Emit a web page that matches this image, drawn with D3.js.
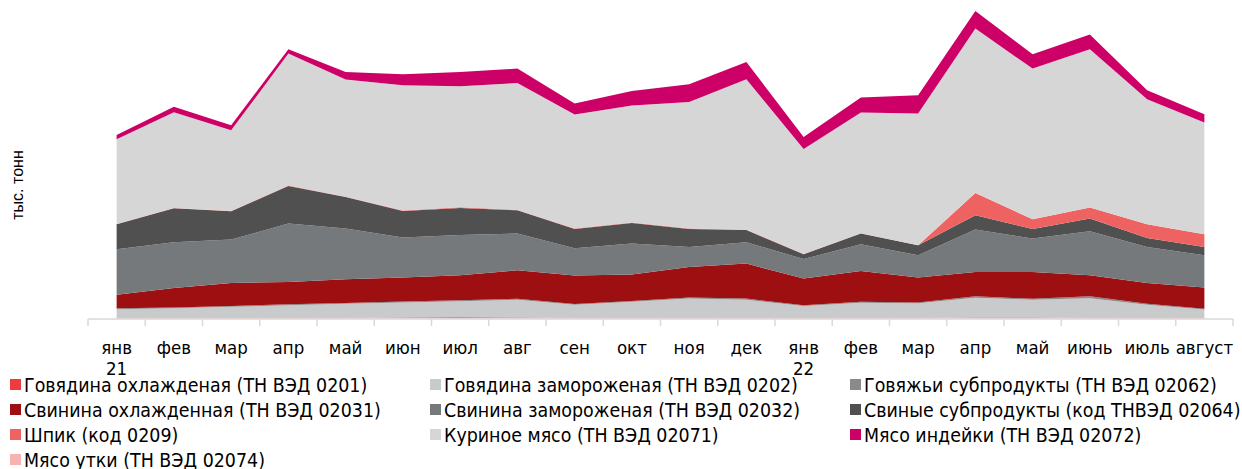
<!DOCTYPE html>
<html><head><meta charset="utf-8">
<script src="https://cdn.jsdelivr.net/npm/d3@7"></script>
<style>
body{margin:0;background:#fff;}
svg text{font-family:"DejaVu Sans Condensed","Liberation Sans Narrow",sans-serif;fill:#000;}
</style></head>
<body><svg id="c" width="1242" height="469"></svg>
<script>
const categories = ["янв\n21","фев","мар","апр","май","июн","июл","авг","сен","окт","ноя","дек","янв\n22","фев","мар","апр","май","июнь","июль","август"];
const seriesNames = ["Говядина охлажденая (ТН ВЭД 0201)","Говядина замороженая (ТН ВЭД 0202)","Говяжьи субпродукты (ТН ВЭД 02062)","Свинина охлажденная (ТН ВЭД 02031)","Свинина замороженая (ТН ВЭД 02032)","Свиные субпродукты (код ТНВЭД 02064)","Шпик (код 0209)","Куриное мясо (ТН ВЭД 02071)","Мясо индейки (ТН ВЭД 02072)","Мясо утки (ТН ВЭД 02074)"];
const colors = ["#ee3b3b","#c9cacc","#8a8a8a","#9e0f12","#76797c","#505050","#ef6262","#d6d6d6","#cc0066","#f7b3b3"];
// values (arbitrary units, stacked bottom -> top)
const beefChilled   = [0.3,0.3,0.3,0.3,0.4,0.8,1.0,0.8,0.3,0.3,0.3,0.3,0.3,0.3,0.3,0.8,0.8,0.4,0.3,0.3];
const beefFrozen    = [8.7,9.7,11.2,12.7,14.1,14.9,16.0,17.7,13.2,16.2,19.4,18.2,12.0,15.2,14.7,19.7,17.7,19.6,13.2,8.4];
const beefOffal     = [1.0,0.8,0.8,1.0,0.8,1.0,1.0,1.0,0.7,0.8,1.0,1.2,0.7,1.0,0.7,1.5,1.0,2.0,1.0,0.8];
const porkChilled   = [13.6,19.5,23.0,22.3,23.7,24.0,25.0,28.5,28.5,26.4,30.6,35.0,26.7,30.8,25.0,24.3,26.8,21.0,20.8,21.2];
const porkFrozen    = [45.4,45.7,43.4,58.4,50.7,40.0,40.3,36.7,27.3,31.0,20.0,21.3,19.6,26.7,22.3,42.4,33.4,44.0,36.0,32.3];
const porkOffal     = [25.0,34.0,28.3,37.6,31.6,26.6,27.0,23.3,19.3,20.6,18.0,12.3,4.7,10.7,10.0,14.3,9.6,12.7,9.0,8.3];
const shpik         = [0.3,0.3,0.3,0.4,0.2,0.4,0.7,0.4,0.4,0.4,0.4,0.3,0.3,0.3,0.0,22.3,9.7,11.0,13.7,12.7];
const chicken       = [84.7,95.7,80.7,132.0,117.2,125.3,121.0,126.9,114.0,117.0,126.6,150.4,105.0,120.7,131.7,164.4,150.7,158.3,125.0,111.7];
const turkey        = [4.3,5.6,5.0,4.3,7.6,11.0,14.3,14.4,11.0,14.6,17.7,17.3,12.0,15.0,18.3,17.6,14.3,14.7,9.0,8.3];
const duck          = [0,0,0,0,0,0,0,0,0,0,0,0,0,0,0,0,0,0,0,0];
const yTitle = "тыс. тонн";

const seriesArrays = [beefChilled,beefFrozen,beefOffal,porkChilled,porkFrozen,porkOffal,shpik,chicken,turkey,duck];
const keys = seriesNames;
const rows = categories.map((c,i)=>{const r={cat:i}; keys.forEach((k,j)=>r[k]=seriesArrays[j][i]); return r;});

const svg = d3.select("#c");
const x = d3.scaleBand().domain(d3.range(categories.length)).range([88,1233]);
const y = d3.scaleLinear().domain([0,310]).range([318.3,8.3]);
const stack = d3.stack().keys(keys)(rows);
const area = d3.area().x(d=>x(d.data.cat)+x.bandwidth()/2).y0(d=>y(d[0])).y1(d=>y(d[1]));
svg.append("g").selectAll("path").data(stack).join("path")
  .attr("d",area).attr("fill",(d,i)=>colors[i]);

// axis
const ax = svg.append("g").attr("transform","translate(0,319)");
ax.append("line").attr("x1",88).attr("x2",1233).attr("y1",0).attr("y2",0).attr("stroke","#d9d9d9").attr("stroke-width",1.5);
const edges = d3.range(categories.length+1).map(i=> i<categories.length ? x(i) : x(i-1)+x.step());
ax.selectAll("line.t").data(edges).join("line").attr("class","t")
  .attr("x1",d=>d).attr("x2",d=>d).attr("y1",0).attr("y2",7).attr("stroke","#d9d9d9").attr("stroke-width",1.5);
const xa = d3.axisBottom(x).tickSize(0).tickFormat(i=>categories[i]);
const xg = svg.append("g").attr("transform","translate(0,319)").call(xa);
xg.select(".domain").remove();
xg.selectAll("text").each(function(i){
  const t=d3.select(this); const parts=categories[i].split("\n"); t.text(null);
  t.attr("y",0).attr("dy",null);
  parts.forEach((p,k)=>t.append("tspan").attr("x",0).attr("y",35+k*21).text(p));
}).attr("font-size",18.5).attr("font-family",null);

svg.append("text").attr("transform","translate(23,185) rotate(-90)").attr("text-anchor","middle")
  .attr("font-size",16).style("font-family","'Liberation Sans',Arial,sans-serif").text(yTitle);

// legend
const lg = svg.append("g");
const colX=[10,430,850], rowY=[385,410,435,460];
keys.forEach((k,i)=>{
  const cx=colX[i%3], cy=rowY[Math.floor(i/3)];
  lg.append("rect").attr("x",cx).attr("y",cy-6).attr("width",11).attr("height",11).attr("fill",colors[i]);
  lg.append("text").attr("x",cx+14).attr("y",cy+7).attr("font-size",19.4).text(k);
});
</script></body></html>
